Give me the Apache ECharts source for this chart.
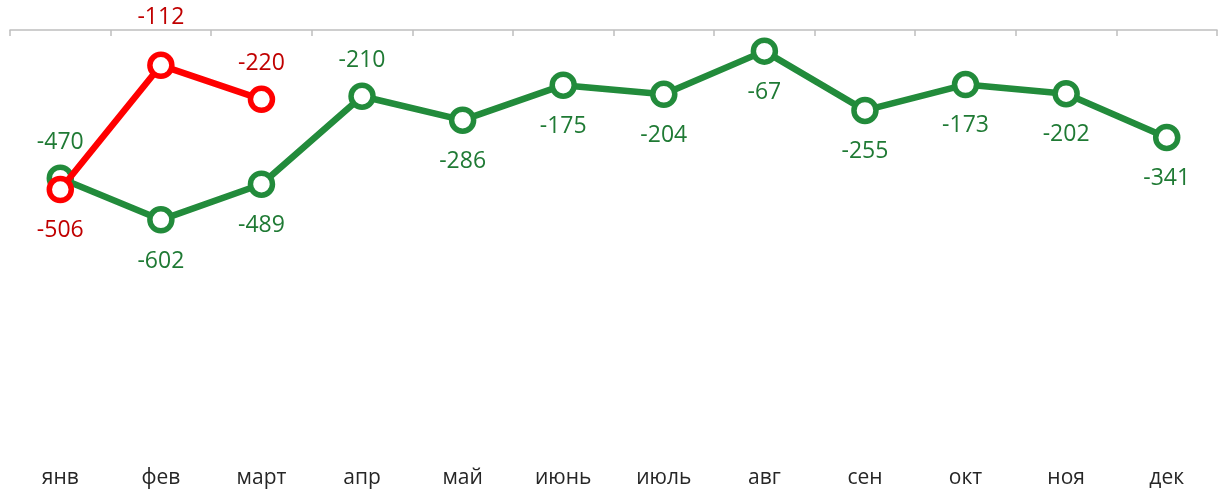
<!DOCTYPE html>
<html>
<head>
<meta charset="utf-8">
<script src="https://cdn.jsdelivr.net/npm/echarts@6/dist/echarts.min.js"></script>
<style>
  html, body { margin: 0; padding: 0; background: #ffffff; }
  #chart { width: 1219px; height: 495px; }
</style>
</head>
<body>
<div id="chart"></div>
<script>
const months = ['янв', 'фев', 'март', 'апр', 'май', 'июнь', 'июль', 'авг', 'сен', 'окт', 'ноя', 'дек'];
const greenValues = [-470, -602, -489, -210, -286, -175, -204, -67, -255, -173, -202, -341];
const redValues = [-506, -112, -220, null, null, null, null, null, null, null, null, null];
const greenLabelSide = ['top', 'bottom', 'bottom', 'top', 'bottom', 'bottom', 'bottom', 'bottom', 'bottom', 'bottom', 'bottom', 'bottom'];
const redLabelSide = ['bottom', 'top', 'top'];

const GREEN = '#228B3B';
const GREEN_TEXT = '#1F7A34';
const RED = '#FF0000';
const RED_TEXT = '#C00000';
const FONT = 'Open Sans';

function buildData(values, sides, topDist, bottomDist, special) {
  return values.map((v, i) => {
    if (v === null) return null;
    const side = sides[i] || 'bottom';
    let dist = side === 'top' ? topDist : bottomDist;
    if (special && special[i] != null) dist = special[i];
    return {
      value: v,
      label: { position: side, distance: dist }
    };
  });
}

const chart = echarts.init(document.getElementById('chart'), null, { renderer: 'canvas' });
chart.setOption({
  animation: false,
  backgroundColor: '#ffffff',
  grid: { left: 10, right: 2, top: 30, bottom: 33, containLabel: false },
  xAxis: [
    {
      type: 'category',
      data: months,
      position: 'top',
      boundaryGap: true,
      axisLine: { show: true, lineStyle: { color: '#BFBFBF', width: 1.5 } },
      axisTick: { show: true, inside: true, length: 6, lineStyle: { color: '#BFBFBF', width: 1.5 } },
      axisLabel: { show: false },
      splitLine: { show: false }
    },
    {
      type: 'category',
      data: months,
      position: 'bottom',
      boundaryGap: true,
      axisLine: { show: false },
      axisTick: { show: false },
      axisLabel: { show: true, color: '#262626', fontSize: 21, fontFamily: FONT, margin: 6 },
      splitLine: { show: false }
    }
  ],
  yAxis: {
    type: 'value',
    min: -1370,
    max: 0,
    show: false,
    splitLine: { show: false }
  },
  series: [
    {
      name: 'green',
      type: 'line',
      xAxisIndex: 0,
      data: buildData(greenValues, greenLabelSide, 11, 16),
      lineStyle: { color: GREEN, width: 6.5 },
      itemStyle: { color: '#FFFFFF', borderColor: GREEN, borderWidth: 5.5 },
      symbol: 'circle',
      symbolSize: 22,
      showAllSymbol: true,
      label: { show: true, color: GREEN_TEXT, fontSize: 23, fontFamily: FONT },
      z: 2
    },
    {
      name: 'red',
      type: 'line',
      xAxisIndex: 0,
      data: buildData(redValues, redLabelSide, 11, 16, [null, 23, null]),
      connectNulls: false,
      lineStyle: { color: RED, width: 6.5 },
      itemStyle: { color: '#FFFFFF', borderColor: RED, borderWidth: 5.5 },
      symbol: 'circle',
      symbolSize: 22,
      showAllSymbol: true,
      label: { show: true, color: RED_TEXT, fontSize: 23, fontFamily: FONT },
      z: 3
    }
  ]
});
</script>
</body>
</html>
